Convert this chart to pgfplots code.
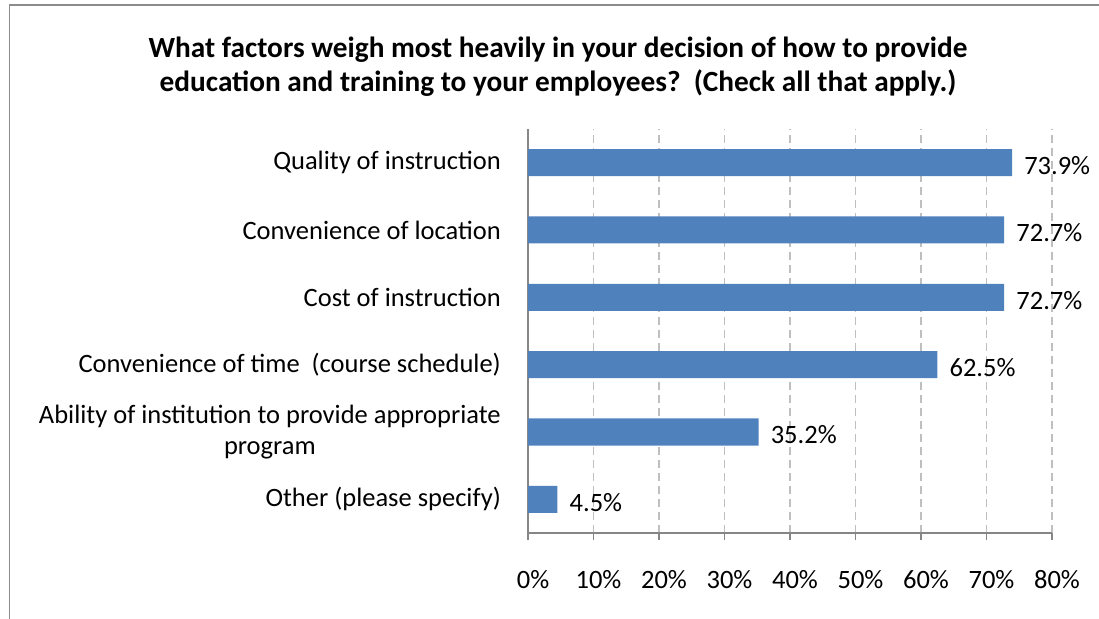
\documentclass[border=0pt]{standalone}
\usepackage{pgfplots}
\pgfplotsset{compat=1.18}
\usepackage{fontspec}
\setmainfont{Carlito}

\definecolor{barblue}{HTML}{4F81BD}
\definecolor{axisgray}{HTML}{868686}
\definecolor{gridgray}{HTML}{BFBFBF}
\definecolor{framegray}{HTML}{8C8C8C}

\newcommand{\lblfont}{\fontsize{26.5}{31}\selectfont}

\begin{document}
\begin{tikzpicture}
\useasboundingbox (0pt,0pt) rectangle (1099pt,618pt);
% chart frame (continues past the right and bottom edges)
\draw[framegray, line width=1.6pt] (9.5pt,-5pt) -- (9.5pt,613pt) -- (1110pt,613pt);

% title
\node[align=center, font=\fontsize{29.3}{34}\selectfont\bfseries] at (558pt,551pt)
  {What factors weigh most heavily in your decision of how to provide\\
   education and training to your employees?\ \ (Check all that apply.)};

\begin{axis}[
  at={(528pt,85pt)}, anchor=south west,
  scale only axis, width=524pt, height=404pt,
  xbar, bar width=27pt,
  xmin=0, xmax=80,
  ymin=-0.5, ymax=5.5,
  axis x line*=bottom, axis y line*=left,
  axis line style={axisgray, line width=1.6pt},
  tick align=outside,
  xtick={0,10,...,80},
  xticklabels={0\%,10\%,20\%,30\%,40\%,50\%,60\%,70\%,80\%},
  major tick length=7pt,
  x tick style={axisgray, line width=1.2pt},
  xmajorgrids,
  major grid style={gridgray, line width=1.3pt, dash pattern=on 8pt off 5pt},
  ytick={0,...,5},
  yticklabels={Other (please specify),
    {Ability of institution to provide appropriate\\program},
    Convenience of time\ \ (course schedule),
    Cost of instruction,
    Convenience of location,
    Quality of instruction},
  y tick style={draw=none},
  minor ytick={-0.5,0.5,...,5.5},
  minor tick length=7pt,
  minor y tick style={axisgray, line width=1.2pt},
  ticklabel style={font=\lblfont, text=black},
  yticklabel style={align=center, inner sep=0pt, xshift=-20pt},
  xticklabel style={inner sep=0pt, yshift=-30pt, xshift=5pt},
  point meta=x,
  nodes near coords={\pgfmathprintnumber[fixed,precision=1,fixed zerofill]{\pgfplotspointmeta}\%},
  nodes near coords style={font=\lblfont, anchor=west, inner sep=0pt, xshift=12pt, yshift=-3pt,
    /pgf/number format/assume math mode=true},
  clip=false,
]
\addplot[fill=barblue, draw=none] coordinates {
  (4.5,0) (35.2,1) (62.5,2) (72.7,3) (72.7,4) (73.9,5)
};
\end{axis}
\end{tikzpicture}
\end{document}
